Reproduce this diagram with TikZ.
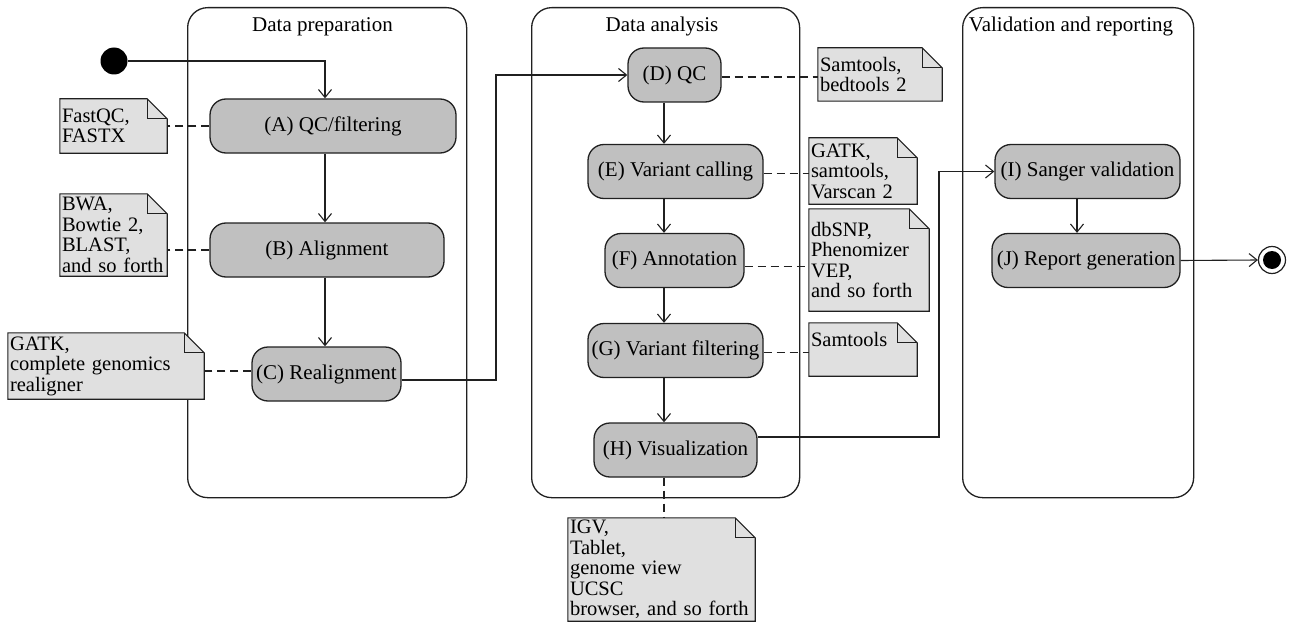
\documentclass[tikz,border=0pt]{standalone}
\usepackage{fontspec}
\setmainfont{Liberation Serif}
\usetikzlibrary{arrows.meta,calc}
\pgfdeclarelayer{lanes}
\pgfdeclarelayer{notes}
\pgfsetlayers{lanes,notes,main}
\definecolor{taskgray}{HTML}{C0C0C0}
\definecolor{notegray}{HTML}{E0E0E0}
\definecolor{edgec}{HTML}{202020}
\begin{document}
\begin{tikzpicture}[x=1pt,y=-1pt,
  every node/.style={font=\fontsize{21}{20.5}\selectfont},
  task/.style={draw=edgec, line width=1.3pt, fill=taskgray, rounded corners=16pt, inner sep=0pt, minimum height=54pt},
  lane/.style={draw=edgec, line width=1.3pt, rounded corners=20pt, minimum height=490pt, anchor=north west, inner sep=0pt},
  lanetitle/.style={anchor=base},
  notebox/.style={inner xsep=2pt, inner ysep=0pt, align=left, font=\fontsize{20.5}{20.5}\selectfont},
  noteline/.style={draw=edgec, fill=notegray, line width=1.1pt},
  flow/.style={draw=edgec, line width=1.1pt, -{Straight Barb[length=8pt,width=13pt,line width=1.1pt]}},
  link/.style={draw=edgec, line width=1.1pt, dash pattern=on 8pt off 5pt},
  ]
\useasboundingbox (0,0) rectangle (1290,623);

% swimlanes
\begin{pgfonlayer}{lanes}
\node[lane, minimum width=279pt] (L1) at (187,7) {};
\node[lane, minimum width=268pt] (L2) at (531,7) {};
\node[lane, minimum width=231pt] (L3) at (962,7) {};
\end{pgfonlayer}
\node[lanetitle] (T1) at (322.5,32) {Data preparation};
\node[lanetitle] (T2) at (662,32) {Data analysis};
\node[lanetitle] (T3) at (1071,32) {Validation and reporting};

% start / end
\node[circle, fill=black, minimum size=27pt, inner sep=0pt] (start) at (114,61) {};
\node[circle, draw=edgec, line width=1.2pt, fill=white, minimum size=27pt, inner sep=0pt] (end) at (1272,260) {};
\node[circle, fill=black, minimum size=18pt, inner sep=0pt] (endin) at (end) {};

% tasks
\node[task, minimum width=246pt] (A) at (333,126) {(A) QC/filtering};
\node[task, minimum width=234pt] (B) at (327,250) {(B) Alignment};
\node[task, minimum width=149pt] (C) at (326.5,374) {(C) Realignment};
\node[task, minimum width=93pt] (D) at (674.5,75) {(D) QC};
\node[task, minimum width=175pt] (E) at (675.5,171.5) {(E) Variant calling};
\node[task, minimum width=139pt] (F) at (674.5,260.5) {(F) Annotation};
\node[task, minimum width=175pt] (G) at (675.5,350.5) {(G) Variant filtering};
\node[task, minimum width=163pt] (H) at (675.5,450) {(H) Visualization};
\node[task, minimum width=185pt] (I) at (1087.5,171.5) {(I) Sanger validation};
\node[task, minimum width=188pt] (J) at (1086,260.5) {(J) Report generation};

% notes
\node[notebox, minimum width=107pt, minimum height=54pt, text width=103pt] (nA) at (113.5,126) {FastQC,\\FASTX};
\node[notebox, minimum width=107pt, minimum height=82pt, text width=103pt] (nB) at (113.5,235) {BWA,\\Bowtie 2,\\BLAST,\\and\ so\ forth};
\node[notebox, minimum width=196pt, minimum height=66pt, text width=192pt] (nC) at (106,366) {GATK,\\complete genomics\\realigner};
\node[notebox, minimum width=124pt, minimum height=53pt, text width=120pt] (nD) at (880,74.5) {Samtools,\\bedtools 2};
\node[notebox, minimum width=108pt, minimum height=66pt, text width=104pt] (nE) at (863,171) {GATK,\\samtools,\\Varscan 2};
\node[notebox, minimum width=120pt, minimum height=102pt, text width=116pt] (nF) at (869,260) {dbSNP,\\Phenomizer\\VEP,\\and so forth};
\node[notebox, minimum width=108pt, minimum height=53pt, text width=104pt] (nG) at (863,349.5) {Samtools\\\mbox{}};
\node[notebox, minimum width=187pt, minimum height=103pt, text width=183pt] (nH) at (661.5,569.5) {IGV,\\Tablet,\\genome view\\UCSC\\browser, and so forth};

\begin{pgfonlayer}{notes}
\foreach \n in {nA,nB,nC,nD,nE,nF,nG,nH}{
  \path[noteline] (\n.north west) -- ([xshift=-20pt]\n.north east) -- ([yshift=-20pt]\n.north east) -- (\n.south east) -- (\n.south west) -- cycle;
  \draw[draw=edgec, line width=1.1pt] ([xshift=-20pt]\n.north east) |- ([yshift=-20pt]\n.north east);
}
\end{pgfonlayer}

% helper coordinates
\coordinate (col1) at (325,0);
\coordinate (col2) at (664,0);
\coordinate (col3) at (1077,0);
\coordinate (bendCD) at (496,0);
\coordinate (bendHI) at (939,0);
\coordinate (cOut) at ([yshift=-6pt]C.east);
\coordinate (hOut) at ([yshift=13pt]H.east);
\coordinate (cL) at ([yshift=3pt]C.west);
\coordinate (dR) at ([yshift=-2pt]D.east);
\coordinate (eR) at ([yshift=-2pt]E.east);
\coordinate (fR) at ([yshift=-6pt]F.east);
\coordinate (gR) at ([yshift=-2pt]G.east);

% control flow
\draw[flow] (start.east) -| (A.north -| col1);
\draw[flow] (A.south -| col1) -- (B.north -| col1);
\draw[flow] (B.south -| col1) -- (C.north -| col1);
\draw[flow] (cOut) -| (bendCD |- D.west) -- (D.west);
\draw[flow] (D.south -| col2) -- (E.north -| col2);
\draw[flow] (E.south -| col2) -- (F.north -| col2);
\draw[flow] (F.south -| col2) -- (G.north -| col2);
\draw[flow] (G.south -| col2) -- (H.north -| col2);
\draw[flow] (hOut) -| (bendHI |- I.west) -- (I.west);
\draw[flow] (I.south -| col3) -- (J.north -| col3);
\draw[flow] (J.east) -- (end.west);

% note links
\draw[link] (A.west) -- (nA.east);
\draw[link] (B.west) -- (B.west -| nB.east);
\draw[link] (cL) -- (cL -| nC.east);
\draw[link] (dR) -- (dR -| nD.west);
\draw[link] (eR) -- (eR -| nE.west);
\draw[link] (fR) -- (fR -| nF.west);
\draw[link] (gR) -- (gR -| nG.west);
\draw[link] (H.south -| col2) -- (nH.north -| col2);
\end{tikzpicture}
\end{document}
